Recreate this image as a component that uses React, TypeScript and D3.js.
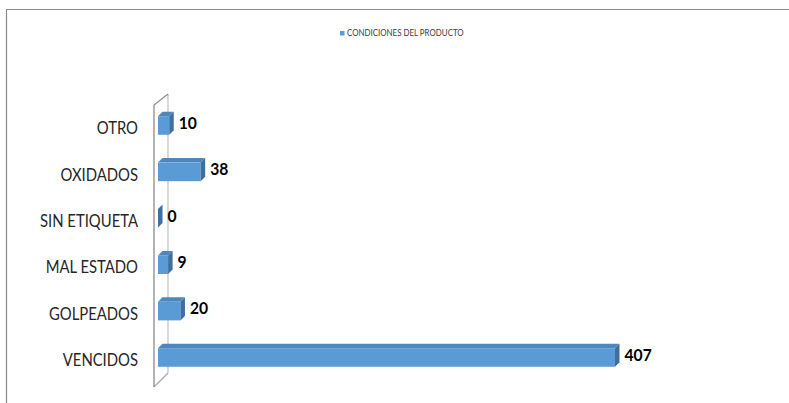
import React from "react";
import * as d3 from "d3";

const categories = ["OTRO", "OXIDADOS", "SIN ETIQUETA", "MAL ESTADO", "GOLPEADOS", "VENCIDOS"];
const values = [10, 38, 0, 9, 20, 407];
const seriesName = "CONDICIONES DEL PRODUCTO";

const W = 789;
const H = 403;

export default function App() {
  const x = d3.scaleLinear().domain([0, 407]).range([158, 615]);
  const y = d3
    .scaleBand<string>()
    .domain(categories)
    .range([102.3, 380.7])
    .paddingInner(0.6)
    .paddingOuter(0.3);
  const bw = y.bandwidth();
  const d = 4.5;
  const front = "#5B9BD5";
  const top = "#4E87BE";
  const side = "#3E6F9E";
  const font = "Lato, 'Open Sans', sans-serif";

  return (
    <svg
      width={W}
      height={H}
      style={{ position: "absolute", left: 0, top: 0, background: "#fff" }}
    >
      {/* outer chart border */}
      <path d={`M6.5,${H} V9.5 H${W}`} fill="none" stroke="#8a8a8a" strokeWidth={1.2} />

      {/* legend */}
      <rect x={340} y={31} width={4.5} height={4.5} fill={front} />
      <text
        transform="translate(347,33.5) scale(0.92,1)"
        fontSize={8.6}
        fontFamily={font}
        fill="#404040"
        dominantBaseline="middle"
      >
        {seriesName}
      </text>

      {/* 3D wall */}
      <path d="M168,94 V373" stroke="#c4c4c4" strokeWidth={1.3} fill="none" />
      <path d="M154,387 L168,373" stroke="#a8a8a8" strokeWidth={1.2} fill="none" />
      <path d="M154,387 V105 L168,94" stroke="#8c8c8c" strokeWidth={1.3} fill="none" />

      {/* bars */}
      {categories.map((c, i) => {
        const y0 = y(c)!;
        const x0 = x(0);
        const x1 = x(values[i]);
        return (
          <g key={c}>
            {x1 > x0 && (
              <>
                <polygon
                  points={`${x0},${y0} ${x0 + d},${y0 - d} ${x1 + d},${y0 - d} ${x1},${y0}`}
                  fill={top}
                />
                <rect x={x0} y={y0} width={x1 - x0} height={bw} fill={front} />
              </>
            )}
            <polygon
              points={`${x1},${y0} ${x1 + d},${y0 - d} ${x1 + d},${y0 + bw - d} ${x1},${y0 + bw}`}
              fill={side}
            />
            <text
              transform={`translate(${x1 + d + 5},${y0 + bw / 2 - 1}) scale(0.95,1)`}
              fontSize={16.5}
              fontWeight={700}
              fontFamily={font}
              fill="#000"
              dominantBaseline="middle"
            >
              {values[i]}
            </text>
            <text
              transform={`translate(138,${y0 + bw / 2 + 4.5}) scale(0.9,1)`}
              fontSize={16.5}
              fontFamily={font}
              fill="#262626"
              textAnchor="end"
              dominantBaseline="middle"
            >
              {c}
            </text>
          </g>
        );
      })}
    </svg>
  );
}
